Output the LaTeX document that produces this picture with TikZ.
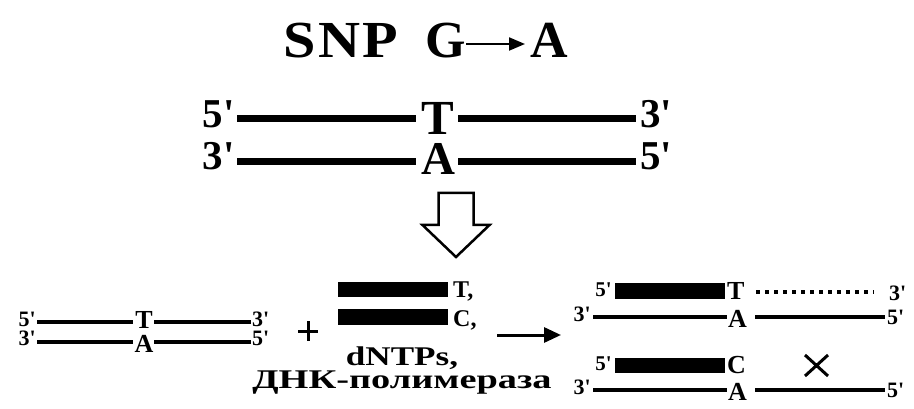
\documentclass[tikz,border=0pt]{standalone}
\usepackage{fontspec}
\setmainfont{Liberation Serif}[Ligatures=TeXOff]
\usetikzlibrary{arrows.meta}
\newcommand{\fs}[1]{\fontsize{#1}{#1}\selectfont\bfseries}
\tikzset{
  lbl/.style={inner sep=0pt, anchor=base},
  thickstrand/.style={line width=7pt},
  thinstrand/.style={line width=3.5pt},
  bar/.style={fill=black, draw=none},
  hollow/.style={draw=black, line width=2.5pt, fill=white, line join=miter},
}
\begin{document}
\begin{tikzpicture}[x=1pt, y=-1pt]
\useasboundingbox (0,0) rectangle (914,409);
% title
\node[lbl] (snp) at (341,58) {\fs{52}\scalebox{1.12}[1]{S\kern2pt N\kern2pt P}};
\node[lbl] (g) at (446,58) {\fs{52}G};
\node[lbl] (a) at (549,58) {\fs{52}A};
\draw[line width=2pt, -{Triangle[length=16pt,width=13pt]}] (466,44) -- (525,44);
% top duplex
\node[lbl, anchor=base east] (t5l) at (235,128) {\fs{41}5'};
\node[lbl, anchor=base east] (t3l) at (235,170) {\fs{41}3'};
\node[lbl, anchor=base west] (t3r) at (640,128) {\fs{41}3'};
\node[lbl, anchor=base west] (t5r) at (640,170) {\fs{41}5'};
\node[lbl] (tT) at (438,135) {\fs{49}T};
\node[lbl] (tA) at (438,175) {\fs{47}A};
\draw[thickstrand] (237,119) -- (416,119);
\draw[thickstrand] (458,119) -- (636,119);
\draw[thickstrand] (237,162) -- (416,162);
\draw[thickstrand] (458,162) -- (636,162);
% hollow arrow
\draw[hollow] (438.5,193) -- (473.5,193) -- (473.5,225) -- (489.5,225) -- (456,257) -- (422.5,225) -- (438.5,225) -- cycle;
% bottom left duplex
\node[lbl, anchor=base east] (b5l) at (36,326) {\fs{22}5'};
\node[lbl, anchor=base east] (b3l) at (36,345) {\fs{22}3'};
\node[lbl, anchor=base west] (b3r) at (252,326) {\fs{22}3'};
\node[lbl, anchor=base west] (b5r) at (252,345) {\fs{22}5'};
\node[lbl] (bT) at (144,328) {\fs{26}T};
\node[lbl] (bA) at (144,352) {\fs{26}A};
\draw[thinstrand] (37,322) -- (133,322);
\draw[thinstrand] (154,322) -- (251,322);
\draw[thinstrand] (37,342) -- (133,342);
\draw[thinstrand] (154,342) -- (251,342);
% plus
\draw[line width=3pt] (298,331) -- (318,331) (308,321) -- (308,341);
% primers
\fill[bar] (338,282) rectangle (448,297);
\fill[bar] (338,309) rectangle (448,325);
\node[lbl, anchor=base west] (pT) at (453,298) {\fs{24}T,};
\node[lbl, anchor=base west] (pC) at (453,326) {\fs{24}C,};
\node[lbl] (dntp) at (402,365) {\fs{27}\scalebox{1.3}[1]{dNTPs,}};
\node[lbl] (pol) at (402,388) {\fs{27}\scalebox{1.42}[1]{ДНК-полимераза}};
% reaction arrow
\draw[line width=3pt, -{Triangle[length=17pt,width=15pt]}] (497,335) -- (561,335);
% right top
\node[lbl, anchor=base east] (r5a) at (612,296) {\fs{21}5'};
\fill[bar] (615,283) rectangle (725,299);
\node[lbl, anchor=base west] (rT) at (727,299) {\fs{26}T};
\draw[line width=3.5pt, dash pattern=on 3.5pt off 5.5pt] (756,292) -- (874,292);
\node[lbl, anchor=base west] (r3a) at (889,300) {\fs{22}3'};
\node[lbl, anchor=base east] (r3b) at (591,321) {\fs{22}3'};
\draw[thinstrand] (593,317) -- (727,317);
\node[lbl, anchor=base west] (rA) at (728,327) {\fs{26}A};
\draw[thinstrand] (755,317) -- (885,317);
\node[lbl, anchor=base west] (r5b) at (887,324) {\fs{22}5'};
% right bottom
\node[lbl, anchor=base east] (s5a) at (612,370) {\fs{21}5'};
\fill[bar] (615,358) rectangle (725,373);
\node[lbl, anchor=base west] (sC) at (727,373) {\fs{26}C};
\draw[line width=3pt] (805,355) -- (828,376) (805,376) -- (828,355);
\node[lbl, anchor=base east] (s3b) at (591,394) {\fs{22}3'};
\draw[thinstrand] (593,390) -- (727,390);
\node[lbl, anchor=base west] (sA) at (728,400) {\fs{26}A};
\draw[thinstrand] (755,390) -- (885,390);
\node[lbl, anchor=base west] (s5b) at (887,397) {\fs{22}5'};
\end{tikzpicture}
\end{document}
